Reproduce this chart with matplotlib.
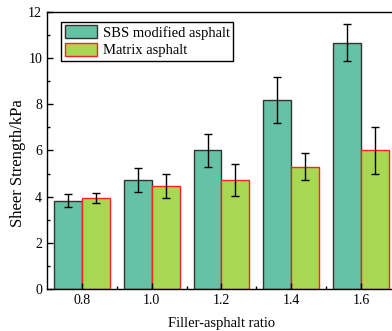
import numpy as np
import matplotlib.pyplot as plt
from matplotlib.ticker import MultipleLocator

plt.rcParams['font.family'] = ['Liberation Serif', 'DejaVu Serif']

ratios = [0.8, 1.0, 1.2, 1.4, 1.6]
sbs = [3.83, 4.70, 6.00, 8.17, 10.67]
sbs_err = [0.30, 0.52, 0.70, 1.00, 0.80]
matrix = [3.94, 4.46, 4.71, 5.30, 6.00]
matrix_err = [0.20, 0.50, 0.69, 0.60, 1.00]

x = np.array(ratios)
w = 0.08

fig = plt.figure(figsize=(3.92, 3.31), dpi=100)
ax = fig.add_axes([0.12, 0.127, 0.89, 0.837])

ax.bar(x - w / 2, sbs, w, yerr=sbs_err, color='#66c2a5', edgecolor='#333333',
       linewidth=1.0, capsize=3, error_kw=dict(elinewidth=1.0, capthick=1.0, ecolor='black'),
       label='SBS modified asphalt')
ax.bar(x + w / 2, matrix, w, yerr=matrix_err, color='#a8d852', edgecolor='#ff2020',
       linewidth=1.0, capsize=3, error_kw=dict(elinewidth=1.0, capthick=1.0, ecolor='black'),
       label='Matrix asphalt')

ax.set_xlim(0.7, 1.7)
ax.set_ylim(0, 12)
ax.set_xticks(ratios)
ax.set_xticklabels(['%.1f' % r for r in ratios])
ax.set_xticks([0.9, 1.1, 1.3, 1.5], minor=True)
ax.yaxis.set_major_locator(MultipleLocator(2))
ax.yaxis.set_minor_locator(MultipleLocator(1))
ax.tick_params(which='both', direction='in', top=False, right=False, labelsize=10)
ax.tick_params(which='major', length=4, width=1)
ax.tick_params(which='minor', length=2.5, width=1)
for s in ax.spines.values():
    s.set_linewidth(1.0)

ax.set_xlabel('Filler-asphalt ratio', fontsize=10.5, labelpad=7)
ax.set_ylabel('Sheer Strength/kPa', fontsize=12)
ax.yaxis.set_label_coords(-0.06, 0.455)

leg = ax.legend(loc='upper left', bbox_to_anchor=(0.04, 0.965), borderaxespad=0,
                fontsize=10.5, fancybox=False, framealpha=1, edgecolor='black',
                handlelength=2.2, handleheight=1.0, labelspacing=0.2,
                handletextpad=0.4, borderpad=0.25)
leg.get_frame().set_linewidth(1.0)

fig.savefig('out.png', dpi=100)
